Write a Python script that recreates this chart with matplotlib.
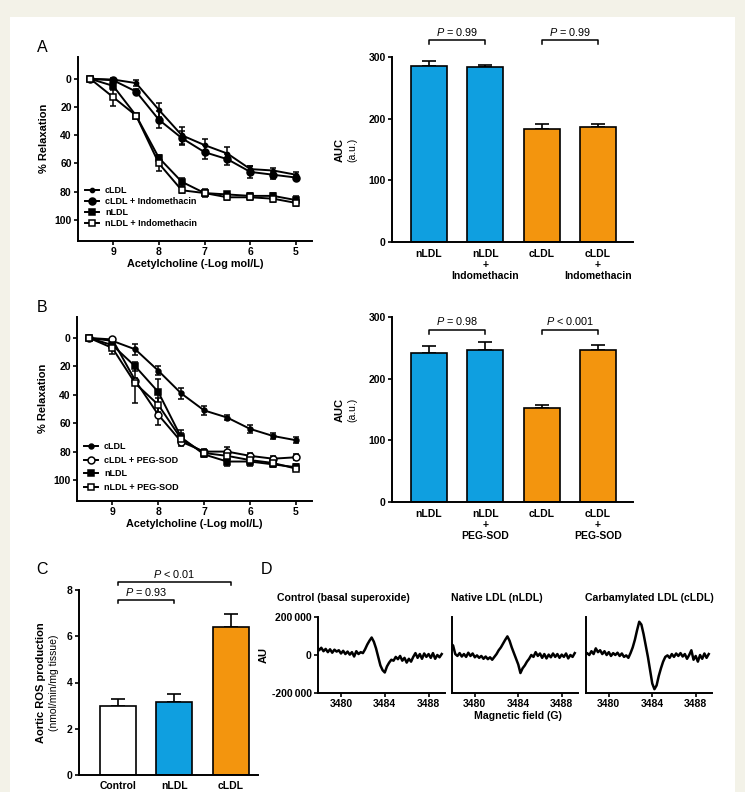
import numpy as np
import matplotlib
matplotlib.use("Agg")
import matplotlib.pyplot as plt
from matplotlib.lines import Line2D
from matplotlib.patches import Rectangle

plt.rcParams["font.family"] = ["Liberation Sans", "DejaVu Sans"]
plt.rcParams["font.weight"] = "bold"
plt.rcParams["axes.labelweight"] = "bold"
plt.rcParams["mathtext.fontset"] = "custom"
plt.rcParams["mathtext.it"] = "Liberation Sans:style=italic:weight=normal"
plt.rcParams["mathtext.rm"] = "Liberation Sans:weight=normal"

BLUE = "#0f9fe0"
ORANGE = "#f3950e"
W, H = 745, 792

# ---- data: vascular relaxation curves ----
dose = [9.5, 9, 8.5, 8, 7.5, 7, 6.5, 6, 5.5, 5]

a_labels = ["cLDL", "cLDL + Indomethacin", "nLDL", "nLDL + Indomethacin"]
a_cldl = [0, 0.5, 3, 22, 40, 47, 53, 64, 65, 68]
a_cldl_indo = [0, 1, 9, 29, 42, 52, 57, 66, 68, 70]
a_nldl = [0, 5, 26, 56, 73, 81, 82, 83, 83, 86]
a_nldl_indo = [0, 13, 26, 60, 79, 81, 84, 84, 85, 88]
a_cldl_err = [0, 1, 2, 5, 6, 4, 5, 2, 2, 2]
a_cldl_indo_err = [0, 1, 2, 6, 5, 5, 4, 4, 3, 2]
a_nldl_err = [0, 3, 1, 2, 3, 3, 2, 2, 2, 3]
a_nldl_indo_err = [0, 6, 1, 5, 2, 2, 2, 2, 2, 2]

b_labels = ["cLDL", "cLDL + PEG-SOD", "nLDL", "nLDL + PEG-SOD"]
b_cldl = [0, 2, 8, 23, 39, 51, 56, 64, 69, 72]
b_cldl_peg = [0, 1, 30, 54, 73, 80, 80, 83, 85, 84]
b_nldl = [0, 5, 20, 38, 70, 82, 87, 87, 89, 91]
b_nldl_peg = [0, 7, 32, 47, 71, 81, 83, 86, 88, 92]
b_cldl_err = [0, 1, 4, 3, 4, 3, 2, 3, 2, 2]
b_cldl_peg_err = [0, 1, 2, 7, 3, 2, 3, 2, 2, 2]
b_nldl_err = [0, 2, 3, 9, 5, 2, 3, 3, 2, 2]
b_nldl_peg_err = [0, 4, 14, 5, 4, 2, 3, 3, 2, 2]

# ---- data: AUC bars ----
auc_a_groups = ["nLDL", "nLDL\n+\nIndomethacin", "cLDL", "cLDL\n+\nIndomethacin"]
auc_a = [286, 284, 184, 186]
auc_a_err = [7, 3, 7, 5]
auc_a_p = ["$P$ = 0.99", "$P$ = 0.99"]

auc_b_groups = ["nLDL", "nLDL\n+\nPEG-SOD", "cLDL", "cLDL\n+\nPEG-SOD"]
auc_b = [242, 246, 153, 246]
auc_b_err = [11, 14, 4, 9]
auc_b_p = ["$P$ = 0.98", "$P$ < 0.001"]

# ---- data: aortic ROS ----
ros_groups = ["Control", "nLDL", "cLDL"]
ros = [3.0, 3.15, 6.4]
ros_err = [0.28, 0.35, 0.55]
ros_p = ["$P$ = 0.93", "$P$ < 0.01"]

# ---- data: EPR spectra (AU, thousands), field sampled every 0.2 G ----
field = np.arange(3477.8, 3489.3, 0.2)
epr_titles = ["Control (basal superoxide)", "Native LDL (nLDL)", "Carbamylated LDL (cLDL)"]
epr_control = [45, 25, 38, 20, 32, 15, 30, 12, 28, 18, 25, 8, 22, 5, 18, 2, 15, -8, 20, 5,
               15, 10, 30, 55, 75, 92, 70, 35, -10, -55, -80, -92, -60, -40, -25, -30, -10, -22, -5, -30,
               -15, -40, -20, -35, -10, 10, -15, 5, -20, 8, -10, 5, -15, 10, -20, 0, -12, 5]
epr_native = [60, 50, 5, -5, 10, -8, 5, -10, 12, -5, 8, -12, -2, -15, -5, -20, -8, -22, -12, -25,
              -10, 5, 25, 40, 60, 80, 98, 75, 40, 10, -20, -50, -95, -70, -55, -35, -20, 0, -10, 15,
              -5, 8, -15, 5, -18, 2, -12, 8, -10, 5, -15, 2, -10, 8, -18, 0, -10, 10]
epr_carb = [5, 10, 0, 20, 5, 35, 15, 25, 5, 20, 0, 15, -5, 10, 0, 12, -5, 8, -10, -2,
            -15, 10, 40, 80, 130, 175, 160, 110, 50, -10, -80, -150, -180, -160, -110, -70, -35, -10, -2, -15,
            5, -10, 8, -5, 10, -8, 5, -20, 0, 25, -25, -5, -35, 0, -20, 8, -15, 5]


def rect(l, t, r, b):
    return [l / W, 1 - b / H, (r - l) / W, (b - t) / H]


def style(ax):
    for s in ["top", "right"]:
        ax.spines[s].set_visible(False)
    for s in ["left", "bottom"]:
        ax.spines[s].set_linewidth(1.4)
    ax.tick_params(direction="out", length=3, width=1.2, pad=1.5, labelsize=7.5)


def bracket(ax, x1, x2, y, h, text):
    ax.plot([x1, x1, x2, x2], [y - h, y, y, y - h], color="k", lw=1.1, clip_on=False)
    ax.text((x1 + x2) / 2, y + h * 0.6, text, ha="center", va="bottom",
            fontsize=7.8, fontweight="normal")


def relax_panel(ax, series, errs, labels, markers, sizes, faces, leg_anchor, spacing):
    handles = []
    for y, e, lab, m, ms, fc in zip(series, errs, labels, markers, sizes, faces):
        ax.errorbar(dose, y, yerr=e, color="k", marker=m, ms=ms, mfc=fc, mec="k",
                    mew=1.1, lw=1.4, elinewidth=1.1, capsize=2.5, capthick=1.1)
        handles.append(Line2D([], [], color="k", marker=m, ms=ms, mfc=fc, mec="k",
                              mew=1.1, lw=1.4, label=lab))
    style(ax)
    ax.set_xlim(9.77, 4.65)
    ax.set_xticks([9, 8, 7, 6, 5])
    ax.set_yticks([0, 20, 40, 60, 80, 100])
    ax.set_ylabel("% Relaxation", fontsize=8)
    ax.set_xlabel("Acetylcholine (-Log mol/L)", fontsize=7.8, labelpad=1)
    ax.yaxis.set_label_coords(-0.125, 0.56)
    ax.legend(handles=handles, loc="lower left", bbox_to_anchor=leg_anchor,
              frameon=False, fontsize=6.5, handlelength=1.6, handletextpad=0.6,
              borderpad=0, borderaxespad=0, labelspacing=spacing)


def auc_panel(ax, vals, errs, groups, pvals, p_y, p_h):
    x = np.arange(len(vals))
    ax.bar(x, vals, width=0.64, color=[BLUE, BLUE, ORANGE, ORANGE],
           edgecolor="k", lw=1.2, zorder=2)
    ax.errorbar(x, vals, yerr=[np.zeros(len(errs)), errs], fmt="none",
                ecolor="k", elinewidth=1.2, capsize=5, capthick=1.2, zorder=1)
    style(ax)
    ax.set_xlim(-0.65, 3.62)
    ax.set_ylim(0, 300)
    ax.set_yticks([0, 100, 200, 300])
    ax.set_xticks(x)
    ax.set_xticklabels(groups, fontsize=7.5, linespacing=1.1)
    ax.tick_params(axis="x", length=0, pad=5)
    ax.text(-0.215, 0.5, "AUC", transform=ax.transAxes, rotation=90,
            ha="center", va="center", fontsize=8)
    ax.text(-0.165, 0.5, "(a.u.)", transform=ax.transAxes, rotation=90,
            ha="center", va="center", fontsize=7.5, fontweight="normal")
    bracket(ax, 0, 1, p_y, p_h, pvals[0])
    bracket(ax, 2, 3, p_y, p_h, pvals[1])


fig = plt.figure(figsize=(W / 100, H / 100), dpi=100)
fig.patch.set_facecolor("#f3f2e8")
fig.add_artist(Rectangle((10 / W, 0), 725 / W, 1 - 17 / H, transform=fig.transFigure,
                         facecolor="white", edgecolor="none", zorder=0))

# ---- A ----
ax = fig.add_axes(rect(78, 57, 312, 241))
relax_panel(ax, [a_cldl, a_cldl_indo, a_nldl, a_nldl_indo],
            [a_cldl_err, a_cldl_indo_err, a_nldl_err, a_nldl_indo_err], a_labels,
            ["o", "o", "s", "s"], [3, 5, 4, 5], ["k", "k", "k", "white"], (0.03, 0.07), 0.22)
ax.set_ylim(115, -15.5)

ax = fig.add_axes(rect(392, 57, 633, 242))
auc_panel(ax, auc_a, auc_a_err, auc_a_groups, auc_a_p, 327, 6)

# ---- B ----
ax = fig.add_axes(rect(77, 317, 312, 501))
relax_panel(ax, [b_cldl, b_cldl_peg, b_nldl, b_nldl_peg],
            [b_cldl_err, b_cldl_peg_err, b_nldl_err, b_nldl_peg_err], b_labels,
            ["o", "o", "s", "s"], [3.5, 5, 4, 5], ["k", "white", "k", "white"], (0.03, 0.05), 0.5)
ax.set_ylim(114.8, -14.8)

ax = fig.add_axes(rect(392, 317, 633, 502))
auc_panel(ax, auc_b, auc_b_err, auc_b_groups, auc_b_p, 279, 7)

# ---- C ----
ax = fig.add_axes(rect(79, 590, 258, 775))
xc = np.arange(len(ros))
ax.bar(xc, ros, width=0.64, color=["white", BLUE, ORANGE], edgecolor="k", lw=1.2, zorder=2)
ax.errorbar(xc, ros, yerr=[np.zeros(len(ros_err)), ros_err], fmt="none",
            ecolor="k", elinewidth=1.2, capsize=5, capthick=1.2, zorder=1)
style(ax)
ax.set_xlim(-0.69, 2.48)
ax.set_ylim(0, 8)
ax.set_yticks([0, 2, 4, 6, 8])
ax.set_xticks(xc)
ax.set_xticklabels(ros_groups, fontsize=7.5)
ax.tick_params(axis="x", length=0, pad=4)
ax.text(-0.21, 0.5, "Aortic ROS production", transform=ax.transAxes, rotation=90,
        ha="center", va="center", fontsize=8)
ax.text(-0.14, 0.5, "(nmol/min/mg tissue)", transform=ax.transAxes, rotation=90,
        ha="center", va="center", fontsize=7.5, fontweight="normal")
bracket(ax, 0, 1, 7.57, 0.14, ros_p[0])
bracket(ax, 0, 2, 8.35, 0.14, ros_p[1])

# ---- D ----
epr_axes = [rect(318, 617, 445, 693), rect(452, 617, 578, 693), rect(586, 617, 712, 693)]
for i, (pos, trace) in enumerate(zip(epr_axes, [epr_control, epr_native, epr_carb])):
    ax = fig.add_axes(pos)
    ax.plot(field, np.array(trace) * 1000, color="k", lw=1.8)
    style(ax)
    ax.set_xlim(3477.9, 3489.5)
    ax.set_ylim(-200000, 200000)
    ax.set_xticks([3480, 3484, 3488])
    if i == 0:
        ax.set_yticks([-200000, 0, 200000])
        ax.set_yticklabels(["-200\u2009000", "0", "200\u2009000"])
        ax.set_ylabel("AU", fontsize=8, labelpad=2)
    else:
        ax.set_yticks([])
    fig.text([277, 451, 585][i] / W, 1 - 598 / H, epr_titles[i], ha="left", va="center",
             fontsize=7.6)
fig.text(518 / W, 1 - 716 / H, "Magnetic field (G)", ha="center", va="center", fontsize=7.6)

# panel letters
for letter, x, y in [("A", 42, 47), ("B", 42, 308), ("C", 42, 570), ("D", 267, 570)]:
    fig.text(x / W, 1 - y / H, letter, ha="center", va="center", fontsize=11.5, fontweight="normal")

fig.savefig("out.png", dpi=100, facecolor=fig.get_facecolor())
